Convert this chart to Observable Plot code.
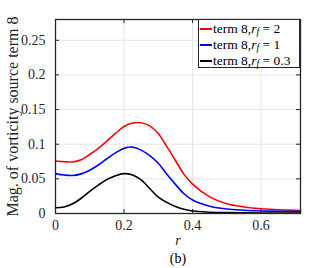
<!DOCTYPE html>
<html>
<head>
<meta charset="utf-8">
<script src="https://cdn.jsdelivr.net/npm/d3@7"></script>
<script src="https://cdn.jsdelivr.net/npm/@observablehq/plot@0.6"></script>
<style>
  html, body { margin: 0; padding: 0; background: #fff; }
  #wrap { position: relative; width: 332px; height: 268px; font-family: "Liberation Serif", serif; }
  #wrap svg text { font-family: "Liberation Serif", serif; }
  #legend { position: absolute; left: 198px; top: 19px; width: 100px; height: 47px; border: 1.5px solid #262626; background: #fff; box-sizing: content-box; font-size: 13.5px; color: #000; }
  .row { position: absolute; left: 0; height: 16px; line-height: 16px; white-space: nowrap; }
  .sw { position: absolute; left: 1px; top: 7px; width: 12px; height: 2px; }
  .lab { position: absolute; left: 14px; top: 0; }
  .lab i { font-style: italic; }
  .lab sub { font-size: 9.5px; vertical-align: -2px; line-height: 0; }
</style>
</head>
<body>
<div id="wrap"></div>
<script>
const r = [0, 0.025, 0.05, 0.075, 0.1, 0.125, 0.15, 0.175, 0.2, 0.225, 0.25, 0.275, 0.3, 0.325, 0.35, 0.375, 0.4, 0.45, 0.5, 0.55, 0.6, 0.65, 0.715];
const rf2 = [0.0758, 0.0748, 0.0744, 0.0775, 0.0852, 0.094, 0.1045, 0.1155, 0.1255, 0.1305, 0.1310, 0.1265, 0.1155, 0.0965, 0.0765, 0.0565, 0.0425, 0.024, 0.0140, 0.0095, 0.0068, 0.0055, 0.0043];
const rf1 = [0.0575, 0.0555, 0.0548, 0.0572, 0.0625, 0.070, 0.079, 0.0875, 0.094, 0.0958, 0.0915, 0.0835, 0.0725, 0.0565, 0.042, 0.0285, 0.0195, 0.0105, 0.0065, 0.0048, 0.0037, 0.0033, 0.003];
const rf03 = [0.0082, 0.0095, 0.014, 0.022, 0.032, 0.041, 0.049, 0.0545, 0.0575, 0.0555, 0.0485, 0.036, 0.0235, 0.0160, 0.0100, 0.006, 0.0035, 0.0018, 0.0012, 0.001, 0.0008, 0.0007, 0.0006];
const seriesNames = ["2", "1", "0.3"];
const seriesColors = ["#ff0000", "#0000ff", "#000000"];
const xTicks = [0, 0.2, 0.4, 0.6];
const xTickLabels = ["0", "0.2", "0.4", "0.6"];
const yTicks = [0, 0.05, 0.1, 0.15, 0.2, 0.25];
const yTickLabels = ["0", "0.05", "0.1", "0.15", "0.2", "0.25"];
const yLabel = "Mag. of vorticity source term 8";
const xLabel = "r";
const caption = "(b)";

const allSeries = [rf2, rf1, rf03];
const data = [];
allSeries.forEach((vals, k) => vals.forEach((v, i) => data.push({r: r[i], v, s: seriesNames[k]})));

const plot = Plot.plot({
  width: 332,
  height: 268,
  marginLeft: 55,
  marginRight: 32,
  marginTop: 19,
  marginBottom: 55,
  style: {fontFamily: "'Liberation Serif', serif", fontSize: "14px", background: "#fff", color: "#262626"},
  x: {domain: [0, 0.715], label: null},
  y: {domain: [0, 0.28], label: null},
  color: {domain: seriesNames, range: seriesColors},
  marks: [
    Plot.gridX(xTicks, {stroke: "#e4e4e4", strokeOpacity: 1, strokeWidth: 1}),
    Plot.gridY(yTicks, {stroke: "#e4e4e4", strokeOpacity: 1, strokeWidth: 1}),
    Plot.ruleX(xTicks, {x: d => d, insetTop: 190, stroke: "#262626"}),
    Plot.ruleX(xTicks, {x: d => d, insetBottom: 190, stroke: "#262626"}),
    Plot.ruleY(yTicks, {y: d => d, insetRight: 241, stroke: "#262626"}),
    Plot.ruleY(yTicks, {y: d => d, insetLeft: 241, stroke: "#262626"}),
    Plot.line(data, {x: "r", y: "v", z: "s", stroke: "s", strokeWidth: 1.6, curve: "catmull-rom"}),
    Plot.frame({stroke: "#262626", strokeWidth: 1.3}),
    Plot.axisX(xTicks, {tickSize: 0, tickPadding: 7, tickFormat: (d, i) => xTickLabels[i], fill: "#262626", fontSize: 14}),
    Plot.axisY(yTicks, {tickSize: 0, tickPadding: 10, tickFormat: (d, i) => yTickLabels[i], fill: "#262626", fontSize: 14}),
    Plot.text([yLabel], {frameAnchor: "left", textAnchor: "middle", rotate: -90, dx: -43, fontSize: 16, fill: "#262626"}),
    Plot.text([xLabel], {frameAnchor: "bottom", textAnchor: "middle", dy: 31, fontSize: 14, fontStyle: "italic", fill: "#262626"}),
    Plot.text([caption], {frameAnchor: "bottom", textAnchor: "middle", dy: 49, fontSize: 14, fill: "#000"})
  ]
});

const wrap = document.getElementById("wrap");
wrap.appendChild(plot);

const legend = document.createElement("div");
legend.id = "legend";
seriesNames.forEach((n, k) => {
  const row = document.createElement("div");
  row.className = "row";
  row.style.top = (1 + k * 16) + "px";
  row.innerHTML = `<div class="sw" style="background:${seriesColors[k]}"></div><span class="lab">term 8,<i>r</i><sub><i>f</i></sub> = ${n}</span>`;
  legend.appendChild(row);
});
wrap.appendChild(legend);
</script>
</body>
</html>
